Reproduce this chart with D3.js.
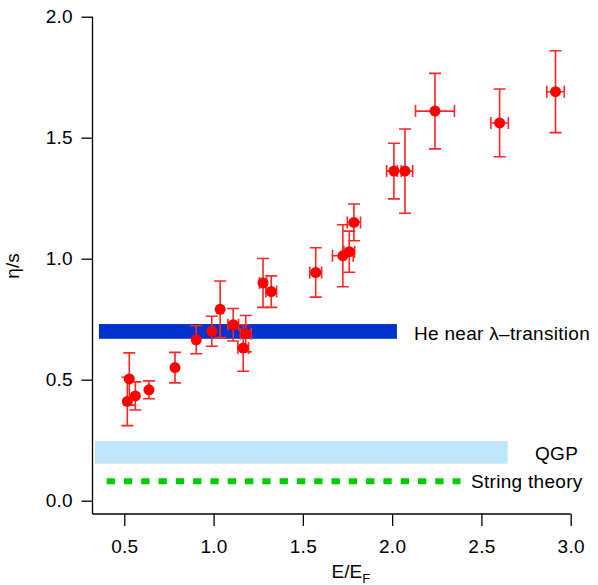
<!DOCTYPE html>
<html>
<head>
<meta charset="utf-8">
<script src="https://cdn.jsdelivr.net/npm/d3@7"></script>
<style>
  body { margin: 0; background: #fff; }
  text { font-family: "Liberation Sans", Arial, Helvetica, sans-serif; }
</style>
</head>
<body>
<div id="chart"></div>
<script>
// data: E/E_F, eta/s, y error, x error
const ratioE  = [0.517, 0.528, 0.562, 0.638, 0.784, 0.903, 0.990, 1.037, 1.110, 1.166, 1.180,
                 1.277, 1.323, 1.572, 1.724, 1.760, 1.786, 2.010, 2.072, 2.240, 2.602, 2.915];
const etaS    = [0.410, 0.503, 0.433, 0.458, 0.550, 0.665, 0.700, 0.791, 0.727, 0.631, 0.690,
                 0.900, 0.864, 0.943, 1.012, 1.029, 1.150, 1.362, 1.362, 1.610, 1.561, 1.690];
const etaErr  = [0.100, 0.108, 0.058, 0.037, 0.063, 0.058, 0.062, 0.117, 0.067, 0.096, 0.075,
                 0.101, 0.065, 0.102, 0.128, 0.085, 0.076, 0.115, 0.174, 0.156, 0.140, 0.169];
const ratioErr = [0, 0, 0, 0, 0, 0, 0, 0, 0.030, 0.030, 0.030,
                  0.020, 0.030, 0.033, 0.058, 0.030, 0.037, 0.041, 0.043, 0.109, 0.049, 0.049];

// reference bands: name, x range, y range
const bandNames = ["He near λ–transition", "QGP"];
const bandX     = [[0.358, 2.027], [0.336, 2.647]];
const bandY     = [[0.669, 0.730], [0.153, 0.247]];
const stringX   = [0.401, 2.383];
const stringY   = 0.08;

const xTicks = [0.5, 1.0, 1.5, 2.0, 2.5, 3.0];
const yTicks = [0.0, 0.5, 1.0, 1.5, 2.0];

const points = ratioE.map((x, i) => ({ x, y: etaS[i], ye: etaErr[i], xe: ratioErr[i] }));

const width = 598, height = 585;
const x = d3.scaleLinear().domain([0.322, 3.0]).range([92.5, 570.7]);
const y = d3.scaleLinear().domain([-0.055, 2.0]).range([514, 16.7]);

const svg = d3.select("#chart").append("svg")
  .attr("width", width)
  .attr("height", height);

// bands
svg.append("rect")
  .attr("x", x(bandX[1][0])).attr("y", y(bandY[1][1]))
  .attr("width", x(bandX[1][1]) - x(bandX[1][0]))
  .attr("height", y(bandY[1][0]) - y(bandY[1][1]))
  .attr("fill", "#bfe6fb");

svg.append("line")
  .attr("x1", x(stringX[0])).attr("x2", x(stringX[1]))
  .attr("y1", y(stringY)).attr("y2", y(stringY))
  .attr("stroke", "#00cc00")
  .attr("stroke-width", 6)
  .attr("stroke-dasharray", "8.3,9");

svg.append("rect")
  .attr("x", x(bandX[0][0])).attr("y", y(bandY[0][1]))
  .attr("width", x(bandX[0][1]) - x(bandX[0][0]))
  .attr("height", y(bandY[0][0]) - y(bandY[0][1]))
  .attr("fill", "#0033cc");

// band labels
const lab = svg.append("g")
  .attr("font-size", "19px")
  .attr("letter-spacing", "0.3px")
  .attr("fill", "#000");
lab.append("text").attr("x", 414).attr("y", 340).text(bandNames[0]);
lab.append("text").attr("x", 535).attr("y", 459.5).text(bandNames[1]);
lab.append("text").attr("x", 471).attr("y", 487.5).text("String theory");

// axes
const axisL = svg.append("g")
  .attr("transform", `translate(${x.range()[0]},0)`)
  .call(d3.axisLeft(y).tickValues(yTicks).tickFormat(d3.format(".1f"))
    .tickSize(11).tickSizeOuter(0).tickPadding(8.5));

const axisB = svg.append("g")
  .attr("transform", `translate(0,${y.range()[0]})`)
  .call(d3.axisBottom(x).tickValues(xTicks).tickFormat(d3.format(".1f"))
    .tickSize(12).tickSizeOuter(0).tickPadding(13.5));

[axisL, axisB].forEach(g => {
  g.select(".domain").attr("stroke", "#000").attr("stroke-width", 1.3);
  g.selectAll(".tick line").attr("stroke", "#000").attr("stroke-width", 1.3);
  g.selectAll(".tick text")
    .attr("fill", "#000")
    .style("font-size", "19px")
    .style("letter-spacing", "0.3px")
    .style("font-family", "Liberation Sans, Arial, sans-serif");
});
// extend left axis up to the top tick and bottom axis to the last tick
axisL.select(".domain").attr("d", `M0,${y(2.0)}V${y.range()[0]}`);
axisB.select(".domain").attr("d", `M${x.range()[0]},0H${x(3.0)}`);

// axis titles
svg.append("text")
  .attr("transform", `translate(19,266) rotate(-90)`)
  .attr("text-anchor", "middle")
  .attr("font-size", "19px")
  .text("η/s");

const xt = svg.append("text")
  .attr("x", 331.6).attr("y", 577.5)
  .attr("font-size", "19px");
xt.append("tspan").text("E/E");
xt.append("tspan").attr("font-size", "13px").attr("dy", 5).text("F");

// error bars
const eb = svg.append("g")
  .attr("stroke", "#ff2626")
  .attr("stroke-width", 1.6)
  .attr("fill", "none");
const cap = 6;
points.forEach(d => {
  const cx = x(d.x), cy = y(d.y);
  const y0 = y(d.y - d.ye), y1 = y(d.y + d.ye);
  eb.append("path").attr("d",
    `M${cx},${y0}V${y1}M${cx - cap},${y0}H${cx + cap}M${cx - cap},${y1}H${cx + cap}`);
  if (d.xe > 0) {
    const x0 = x(d.x - d.xe), x1 = x(d.x + d.xe);
    eb.append("path").attr("d",
      `M${x0},${cy}H${x1}M${x0},${cy - cap}V${cy + cap}M${x1},${cy - cap}V${cy + cap}`);
  }
});

// markers
svg.append("g").selectAll("circle")
  .data(points)
  .join("circle")
  .attr("cx", d => x(d.x))
  .attr("cy", d => y(d.y))
  .attr("r", 5.5)
  .attr("fill", "#ff0000");
</script>
</body>
</html>
